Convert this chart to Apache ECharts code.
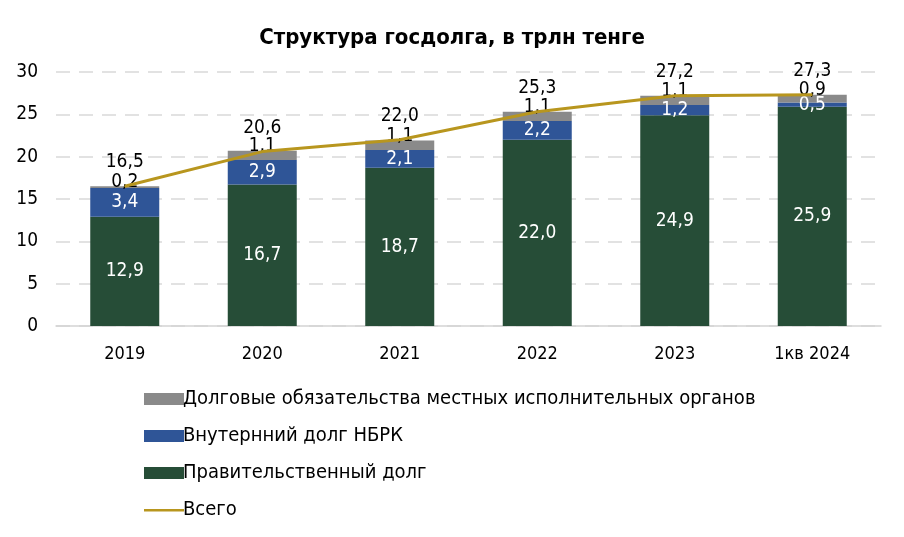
<!DOCTYPE html>
<html>
<head>
<meta charset="utf-8">
<script src="https://cdn.jsdelivr.net/npm/echarts@6/dist/echarts.min.js"></script>
<style>
html,body{margin:0;padding:0;background:#fff;}
#c{width:904px;height:537px;}
</style>
</head>
<body>
<div id="c"></div>
<script>
const categories = ['2019', '2020', '2021', '2022', '2023', '1кв 2024'];
const govDebt = [12.9, 16.7, 18.7, 22.0, 24.9, 25.9];
const nbrkDebt = [3.4, 2.9, 2.1, 2.2, 1.2, 0.5];
const localDebt = [0.2, 1.1, 1.1, 1.1, 1.1, 0.9];
const totalDebt = [16.5, 20.6, 22.0, 25.3, 27.2, 27.3];
const yTicks = [0, 5, 10, 15, 20, 25, 30];

const FONT = '"DejaVu Sans Condensed", "Liberation Sans Narrow", Roboto, sans-serif';
const fmt = v => Number(v).toFixed(1).replace('.', ',');
const LINE_ICON = 'path://M0,0L0.01,0L0.01,0.01ZM0,5L40,5L40,7.5L0,7.5ZM39.99,12L40,12L40,11.99Z';

const chart = echarts.init(document.getElementById('c'));
chart.setOption({
  animation: false,
  backgroundColor: '#ffffff',
  textStyle: { fontFamily: FONT },
  title: {
    text: 'Структура госдолга, в трлн тенге',
    left: 'center',
    top: 22,
    textStyle: { fontFamily: FONT, fontSize: 22, fontWeight: 'bold', color: '#000' }
  },
  legend: {
    orient: 'vertical',
    left: 139,
    top: 384,
    itemWidth: 40,
    itemHeight: 12,
    itemGap: 17,
    textStyle: { fontFamily: FONT, fontSize: 20, lineHeight: 20, color: '#000', padding: [0, 0, 0, -6] },
    data: [
      { name: 'Долговые обязательства местных исполнительных органов', icon: 'rect' },
      { name: 'Внутернний долг НБРК', icon: 'rect' },
      { name: 'Правительственный долг', icon: 'rect' },
      { name: 'Всего', icon: LINE_ICON }
    ]
  },
  grid: { left: 56, right: 23, top: 72, bottom: 211, containLabel: false },
  xAxis: {
    type: 'category',
    data: categories,
    axisLine: { lineStyle: { color: '#d4d4d4', width: 1.5 } },
    axisTick: { show: false },
    axisLabel: { color: '#000', fontSize: 18, fontFamily: FONT, margin: 19 }
  },
  yAxis: {
    type: 'value',
    min: yTicks[0],
    max: yTicks[yTicks.length - 1],
    interval: 5,
    axisLine: { show: false },
    axisTick: { show: false },
    axisLabel: { color: '#000', fontSize: 19, fontFamily: FONT, margin: 18 },
    splitLine: { lineStyle: { color: '#d9d9d9', type: [14, 9], width: 1.5 } }
  },
  series: [
    {
      name: 'Правительственный долг',
      type: 'bar',
      stack: 'd',
      barWidth: 69,
      data: govDebt,
      itemStyle: { color: '#264d37' },
      label: { show: true, position: 'inside', color: '#fff', fontSize: 19, fontFamily: FONT, formatter: p => fmt(p.value) }
    },
    {
      name: 'Внутернний долг НБРК',
      type: 'bar',
      stack: 'd',
      data: nbrkDebt,
      itemStyle: { color: '#2f5597' },
      label: { show: true, position: 'inside', color: '#fff', fontSize: 19, fontFamily: FONT, formatter: p => fmt(p.value) }
    },
    {
      name: 'Долговые обязательства местных исполнительных органов',
      type: 'bar',
      stack: 'd',
      data: localDebt,
      itemStyle: { color: '#8a8a8a' },
      label: { show: true, position: 'top', distance: -5, color: '#000', fontSize: 19, fontFamily: FONT, formatter: p => fmt(p.value) }
    },
    {
      name: 'Всего',
      type: 'line',
      data: totalDebt,
      symbol: 'circle',
      symbolSize: 1,
      showSymbol: true,
      z: 5,
      lineStyle: { color: '#b8961e', width: 3 },
      itemStyle: { color: '#b8961e' },
      label: { show: true, position: 'top', distance: 14, color: '#000', fontSize: 19, fontFamily: FONT, formatter: p => fmt(p.value) }
    }
  ]
});
</script>
</body>
</html>
